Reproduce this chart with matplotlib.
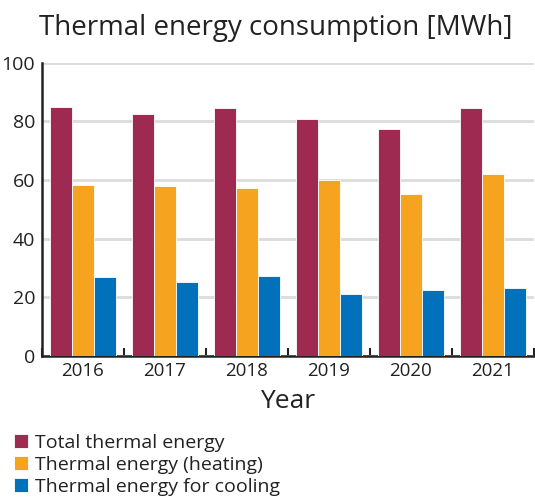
import numpy as np
import matplotlib.pyplot as plt

years = ["2016", "2017", "2018", "2019", "2020", "2021"]
total = [84.8, 82.6, 84.4, 80.8, 77.3, 84.7]
heating = [58.3, 57.9, 57.3, 60.0, 55.2, 61.9]
cooling = [26.8, 25.1, 27.4, 21.0, 22.4, 23.1]

series_names = ["Total thermal energy", "Thermal energy (heating)", "Thermal energy for cooling"]
colors = ["#9E2A52", "#F6A41F", "#0071BA"]

plt.rcParams['font.family'] = ['Open Sans', 'DejaVu Sans']

fig = plt.figure(figsize=(5.35, 5.0), dpi=100)
ax = fig.add_axes([0.0785, 0.288, 0.9195, 0.5865])

x = np.arange(len(years))
w = 0.265
for i, (vals, name, c) in enumerate(zip([total, heating, cooling], series_names, colors)):
    ax.bar(x + (i - 1) * w, vals, width=w, color=c, edgecolor="white", linewidth=0.6,
           label=name, zorder=3)

ax.set_xlim(-0.5, len(years) - 0.5)
ax.set_ylim(0, 100)
ax.set_yticks([0, 20, 40, 60, 80, 100])
ax.set_xticks(x)
ax.set_xticklabels(years)
ax.set_xticks(np.arange(-0.5, len(years)), minor=True)
ax.tick_params(axis="x", which="major", length=0, pad=4, labelsize=13.5, colors="#222222")
ax.tick_params(axis="x", which="minor", length=6, width=1.5, direction="in", color="#222222")
ax.tick_params(axis="y", length=0, pad=5, labelsize=14, colors="#222222")
ax.grid(axis="y", color="#DCDCDC", linewidth=2, zorder=0)

for s in ["top", "right"]:
    ax.spines[s].set_visible(False)
ax.spines["left"].set_linewidth(1.8)
ax.spines["bottom"].set_linewidth(1.8)
ax.spines["left"].set_color("#222222")
ax.spines["bottom"].set_color("#222222")

ax.set_xlabel("Year", fontsize=19, color="#222222", labelpad=7, fontweight="medium")
fig.text(0.515, 0.943, "Thermal energy consumption [MWh]", ha="center", va="center",
         fontsize=20, color="#222222", fontweight="medium")

fig.legend(loc="upper left", bbox_to_anchor=(0.012, 0.148), frameon=False,
           handlelength=0.7, handleheight=0.7, handletextpad=0.35,
           labelspacing=0.2, fontsize=14, labelcolor="#222222", borderaxespad=0)

fig.savefig("out.png", dpi=100)
